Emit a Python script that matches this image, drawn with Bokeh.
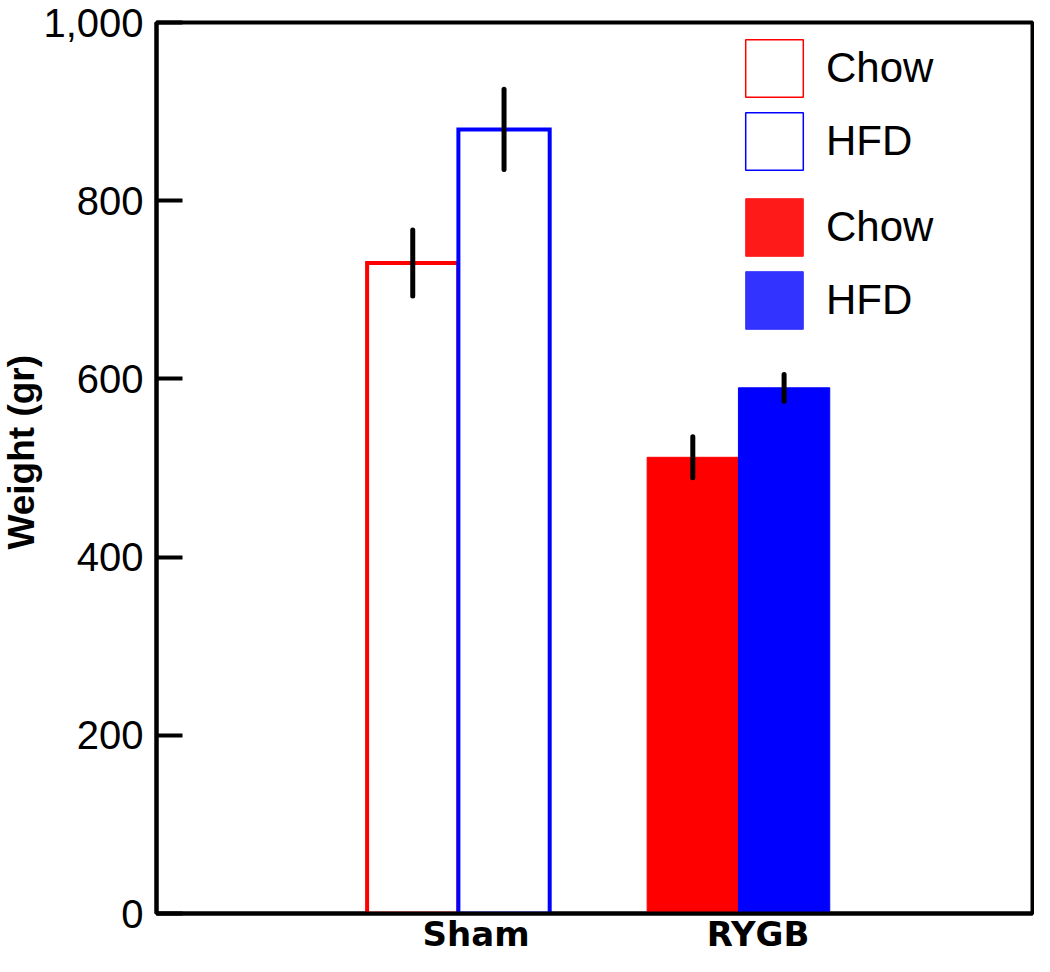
from bokeh.plotting import figure
from bokeh.models import (Range1d, FixedTicker, Legend, LegendItem, Title,
                          ColumnDataSource, NumeralTickFormatter)
from bokeh.embed import file_html
from bokeh.resources import INLINE

# ---- data ----
groups = ["Sham", "RYGB"]
diets = ["Chow", "HFD"]
sham_means = [730, 880]
sham_errs = [37, 45]
rygb_means = [512, 590]
rygb_errs = [23, 15]
y_ticks = [0, 200, 400, 600, 800, 1000]
diet_colors = ["#ff0000", "#0000ff"]

# ---- layout helpers ----
group_x = [1, 2]
bar_w = 0.326
offsets = [-0.163, 0.163]
label_pos = [1.063, 2.07]
FONT = "Liberation Sans"

p = figure(width=1034, height=956, output_backend="svg", toolbar_location=None,
           x_range=Range1d(-0.078, 3.05), y_range=Range1d(0, 1000),
           min_border_left=153, min_border_right=2, min_border_top=22,
           min_border_bottom=40)
p.xgrid.visible = False
p.ygrid.visible = False
p.outline_line_color = "black"
p.outline_line_width = 4
p.outline_line_alpha = 1.0
p.background_fill_color = "white"
p.border_fill_color = "white"

# Sham: outlined bars
sham_x = [group_x[0] + o for o in offsets]
sham_src = ColumnDataSource(dict(x=sham_x, top=sham_means, color=diet_colors,
                                 lo=[m - e for m, e in zip(sham_means, sham_errs)],
                                 hi=[m + e for m, e in zip(sham_means, sham_errs)]))
p.vbar(x="x", top="top", bottom=0, width=bar_w, source=sham_src,
       fill_color="white", line_color="color", line_width=4, line_join="miter")

# RYGB: filled bars
rygb_x = [group_x[1] + o for o in offsets]
rygb_src = ColumnDataSource(dict(x=rygb_x, top=rygb_means, color=diet_colors,
                                 lo=[m - e for m, e in zip(rygb_means, rygb_errs)],
                                 hi=[m + e for m, e in zip(rygb_means, rygb_errs)]))
p.vbar(x="x", top="top", bottom=0, width=bar_w, source=rygb_src,
       fill_color="color", line_color="color", line_width=1)

# Error bars
for src in (sham_src, rygb_src):
    p.segment(x0="x", x1="x", y0="lo", y1="hi", source=src,
              line_color="black", line_width=5, line_cap="round")

# Legend helper renderers (zero-size, hidden under the x axis)
def legend_renderer(fill, line, lw):
    return p.vbar(x=[group_x[0]], top=[0], bottom=0, width=0,
                  fill_color=fill, line_color=line, line_width=lw)

r1 = legend_renderer("white", diet_colors[0], 1.5)
r2 = legend_renderer("white", diet_colors[1], 1.5)
r3 = legend_renderer("#ff1a1a", "#ff1a1a", 1)
r4 = legend_renderer("#3333ff", "#3333ff", 1)

legend_kw = dict(glyph_width=72, glyph_height=72, spacing=1, padding=0, margin=0,
                 label_standoff=16, label_text_font_size="42px",
                 label_text_font=FONT, label_text_color="black",
                 border_line_color=None, background_fill_alpha=0)
legend1 = Legend(items=[LegendItem(label=diets[0], renderers=[r1]),
                        LegendItem(label=diets[1], renderers=[r2])],
                 location=(582, 736), **legend_kw)
legend2 = Legend(items=[LegendItem(label=diets[0], renderers=[r3]),
                        LegendItem(label=diets[1], renderers=[r4])],
                 location=(582, 577), **legend_kw)
p.add_layout(legend1, "center")
p.add_layout(legend2, "center")

# Axes
ya = p.yaxis[0]
ya.ticker = FixedTicker(ticks=y_ticks)
ya.formatter = NumeralTickFormatter(format="0,0")
ya.major_label_text_font_size = "40px"
ya.major_label_text_font = FONT
ya.major_label_text_color = "black"
ya.major_label_standoff = 13
ya.major_tick_in = 26
ya.major_tick_out = 0
ya.minor_tick_in = 0
ya.minor_tick_out = 0
ya.axis_line_width = 4
ya.major_tick_line_width = 4

xa = p.xaxis[0]
xa.ticker = FixedTicker(ticks=label_pos)
xa.major_label_overrides = {label_pos[0]: groups[0], label_pos[1]: groups[1]}
xa.major_label_text_font_size = "34px"
xa.major_label_text_font_style = "bold"
xa.major_label_text_font = "DejaVu Sans"
xa.major_label_text_color = "black"
xa.major_label_standoff = 0
xa.major_tick_in = 0
xa.major_tick_out = 0
xa.minor_tick_in = 0
xa.minor_tick_out = 0
xa.axis_line_width = 4

# Y axis title (left side panel, placed like the reference)
p.add_layout(Title(text="Weight (gr)", align="left", offset=364, standoff=-3,
                   text_font_size="37px", text_font_style="bold", text_font=FONT,
                   text_color="black"), "left")

open("out.html", "w").write(file_html(p, INLINE))
